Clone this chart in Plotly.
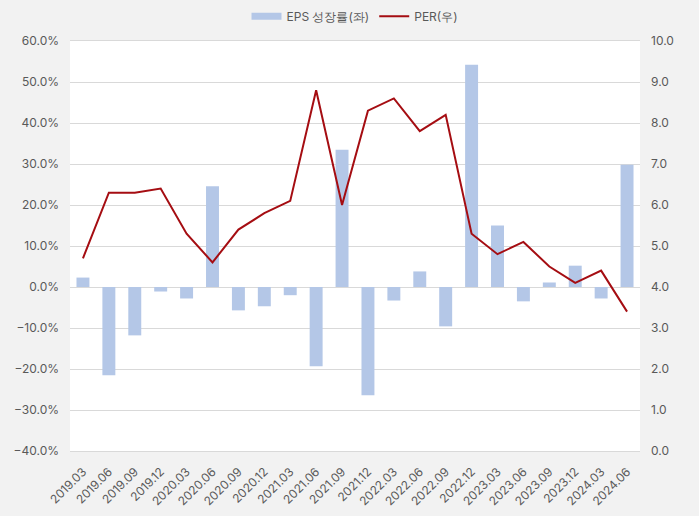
import plotly.graph_objects as go

quarters = ["2019.03", "2019.06", "2019.09", "2019.12", "2020.03", "2020.06", "2020.09", "2020.12",
            "2021.03", "2021.06", "2021.09", "2021.12", "2022.03", "2022.06", "2022.09", "2022.12",
            "2023.03", "2023.06", "2023.09", "2023.12", "2024.03", "2024.06"]
eps_growth = [2.3, -21.5, -11.8, -1.1, -2.8, 24.6, -5.7, -4.7, -2.0, -19.3, 33.5, -26.4,
              -3.3, 3.8, -9.6, 54.2, 15.0, -3.5, 1.1, 5.2, -2.8, 29.8]
per = [4.7, 6.3, 6.3, 6.4, 5.3, 4.6, 5.4, 5.8, 6.1, 8.8, 6.0, 8.3,
       8.6, 7.8, 8.2, 5.3, 4.8, 5.1, 4.5, 4.1, 4.4, 3.4]

FONT = "Inter, 'Noto Sans', sans-serif"
TICK = dict(family=FONT, size=12, color="#595959")
BAR_COLOR = "#b4c7e7"

fig = go.Figure()
fig.add_trace(go.Bar(x=quarters, y=eps_growth, name="EPS 성장률(좌)", showlegend=False,
                     marker=dict(color=BAR_COLOR, line=dict(width=0)), yaxis="y"))
# legend entry drawn as a wide bar-coloured swatch
fig.add_trace(go.Scatter(x=[None], y=[None], name="EPS 성장률(좌)", mode="lines",
                         line=dict(color=BAR_COLOR, width=7), yaxis="y"))
fig.add_trace(go.Scatter(x=quarters, y=per, name="PER(우)", mode="lines",
                         line=dict(color="#a50d12", width=2), yaxis="y2"))

fig.update_layout(
    width=699, height=516,
    paper_bgcolor="#f2f2f2", plot_bgcolor="#ffffff",
    margin=dict(l=70, r=59, t=41, b=65, autoexpand=False),
    bargap=0.5,
    showlegend=True,
    legend=dict(orientation="h", x=0.5, xanchor="center", y=1.025, yanchor="bottom",
                font=dict(family=FONT, size=12, color="#595959"), bgcolor="rgba(0,0,0,0)"),
    xaxis=dict(type="category", tickangle=-45, tickfont=TICK, showgrid=False, ticklabelstandoff=8,
               ticks="", showline=True, linecolor="#d9d9d9", linewidth=1, mirror=True,
               automargin=False),
    yaxis=dict(range=[-40, 60], dtick=10, tickformat=".1f", ticksuffix="%", tickfont=TICK,
               showgrid=True, gridcolor="#d9d9d9", gridwidth=1, zeroline=False, ticks="",
               ticklabelstandoff=10, automargin=False),
    yaxis2=dict(range=[0, 10], dtick=1, tickformat=".1f", tickfont=TICK, overlaying="y",
                side="right", showgrid=False, zeroline=False, ticks="",
                ticklabelstandoff=10, automargin=False),
)

fig.write_html("out.html")
